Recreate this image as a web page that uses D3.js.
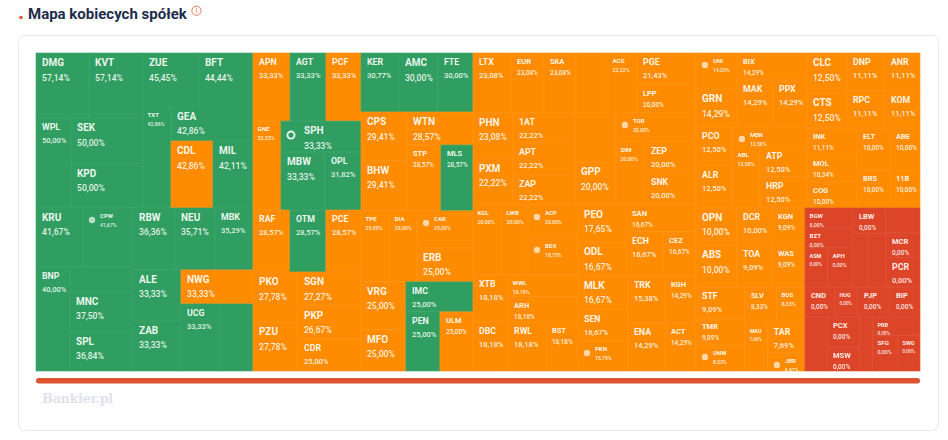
<!DOCTYPE html>
<html>
<head>
<meta charset="utf-8">
<script src="https://cdn.jsdelivr.net/npm/d3@7"></script>
<style>
	body { margin: 0; background: #fff; }
	text { font-family: Roboto, sans-serif; }
</style>
</head>
<body>
<div class="chart"></div>
<script>
// names starting with _ are cells that show no label in the picture
const tickers = [
	"DMG","KVT","WPL","SEK","KPD","ZUE","BFT","TXT","GEA","CDL","MIL",
	"KRU","CPW","BNP","_a","MNC","SPL","RBW","NEU","MBK","ALE","ZAB","NWG","UCG","_b",
	"APN","AGT","PCF","GNE","SPH","MBW","OPL","RAF","OTM","PCE","PKO","PZU","SGN","PKP","CDR",
	"KER","AMC","FTE","CPS","BHW","WTN","STP","MLS","TPE","DIA","CAR","ERB","VRG","MFO","IMC","PEN","ULM",
	"LTX","EUR","SKA","_c","ACG","PGE","LPP","PHN","PXM","1AT","APT","ZAP","_d","GPP","TOR","SIM","ZEP","SNK",
	"KGL","LWB","ACP","BDX","XTB","DBC","WWL","ARH","RWL","BST",
	"PEO","ODL","SAN","ECH","CEZ","MLK","SEN","PKN","TRK","KGH","ENA","ACT",
	"UNI","GRN","BIX","MAK","PPX","PCO","ALR","MBR","ABL","ATP","HRP",
	"CLC","CTS","DNP","RPC","ANR","KOM","INK","MOL","COG","ELT","BRS","ABE","11B",
	"OPN","ABS","DCR","KGN","TOA","WAS","STF","TMR","UNW","SLV","BOS","WAU","TAR","JBR",
	"BGW","BZT","ASM","APH","LBW","_e","_f","_g","MCR","PCR","CND","HUG","PJP","BIP","_h","PCX","MSW","_i","PRB","SFG","SWG"
];
const percents = [
	57.14,57.14,50,50,50,45.45,44.44,42.86,42.86,42.86,42.11,
	41.67,41.67,40,38,37.5,36.84,36.36,35.71,35.29,33.33,33.33,33.33,33.33,33.33,
	33.33,33.33,33.33,33.33,33.33,33.33,31.82,28.57,28.57,28.57,27.78,27.78,27.27,26.67,25,
	30.77,30,30,29.41,29.41,28.57,28.57,28.57,25,25,25,25,25,25,25,25,25,
	23.08,23.08,23.08,23.08,22.22,21.43,20,23.08,22.22,22.22,22.22,22.22,20,20,20,20,20,20,
	20,20,20,18.75,18.18,18.18,18.18,18.18,18.18,18.18,
	17.65,16.67,16.67,16.67,16.67,16.67,16.67,15.79,15.38,14.29,14.29,14.29,
	14.29,14.29,14.29,14.29,14.29,12.5,12.5,12.5,12.5,12.5,12.5,
	12.5,12.5,11.11,11.11,11.11,11.11,11.11,10.34,10,10,10,10,10,
	10,10,10,9.09,9.09,9.09,9.09,9.09,8.33,8.33,8.33,7.69,7.69,6.67,
	0,0,0,0,0,0,0,0,0,0,0,0,0,0,0,0,0,0,0,0,0
];
// cell weight, estimated from the area of each cell
const weights = [
	345,351,315,331,317,302,292,283,279,281,268,
	277,295,354,158,252,246,260,248,236,245,240,245,255,228,
	252,245,238,249,248,255,209,229,223,217,225,220,214,208,202,
	224,230,207,225,230,218,224,211,206,192,207,190,216,185,201,201,195,
	228,198,192,192,174,189,165,184,184,186,198,186,201,176,232,183,158,163,
	203,182,165,185,165,172,154,175,186,157,
	178,163,189,163,145,170,155,150,174,146,178,149,
	148,156,189,169,160,144,155,148,165,141,146,
	160,140,144,141,133,130,135,135,130,139,125,126,114,
	152,172,130,122,147,139,152,132,127,115,101,110,111,67,
	96,96,90,98,83,81,97,85,85,99,90,69,96,90,119,99,79,70,85,90,79
];
const greenTickers = [
	"DMG","KVT","WPL","SEK","KPD","ZUE","BFT","TXT","GEA","MIL","KRU","CPW","BNP","_a","MNC","SPL",
	"RBW","NEU","MBK","ALE","ZAB","UCG","_b","AGT","SPH","MBW","OPL","OTM","KER","AMC","FTE","MLS",
	"IMC","PEN"
];
const iconTickers = ["CPW","SPH","CAR","TOR","ACP","BDX","PKN","UNI","MBR","UNW","JBR"];

const h = (...children) => ({ dir: "h", children });
const v = (...children) => ({ dir: "v", children });

// how the cells nest: h splits a group side by side, v stacks it
const cellTree = h(
	v(
		h(
			v(h("DMG","KVT"), h("WPL", v("SEK","KPD"))),
			v(h("ZUE","BFT"), h("TXT", v("GEA", h("CDL","MIL"))))
		),
		h(
			v(h("KRU","CPW"), h("BNP", v("_a","MNC","SPL"))),
			v(h("RBW","NEU","MBK"), h(v("ALE","ZAB"), v("NWG", h("UCG","_b"))))
		)
	),
	v(
		h("APN","AGT","PCF"),
		h("GNE", v("SPH", h("MBW","OPL"))),
		h("RAF","OTM","PCE"),
		h(v("PKO","PZU"), v("SGN","PKP","CDR"))
	),
	v(
		h("KER","AMC","FTE"),
		h(v("CPS","BHW"), v("WTN", h("STP","MLS"))),
		h("TPE","DIA", v("CAR","ERB")),
		h(v("VRG","MFO"), v("IMC", h("PEN","ULM")))
	),
	v(
		h("LTX","EUR","SKA","_c","ACG", v("PGE","LPP")),
		h(v("PHN","PXM"), v("1AT","APT","ZAP"), v("_d","GPP"), v("TOR", h("SIM", v("ZEP","SNK")))),
		h(
			v(h("KGL","LWB", v("ACP","BDX")), h(v("XTB","DBC"), v("WWL","ARH", h("RWL","BST")))),
			v(h(v("PEO","ODL"), v("SAN", h("ECH","CEZ"))), h(v("MLK","SEN","PKN"), v(h("TRK","KGH"), h("ENA","ACT"))))
		)
	),
	v(
		h(
			v(h(v("UNI","GRN"), v("BIX", h("MAK","PPX"))), h(v("PCO","ALR"), v("MBR", h("ABL", v("ATP","HRP"))))),
			v(h(v("CLC","CTS"), v("DNP","RPC"), v("ANR","KOM")), h(v("INK","MOL","COG"), v("ELT","BRS"), v("ABE","11B")))
		),
		h(
			v(h(v("OPN","ABS"), v(h("DCR","KGN"), h("TOA","WAS"))), h(v("STF","TMR","UNW"), v(h("SLV","BOS"), h("WAU", v("TAR","JBR"))))),
			v(
				h(v("BGW","BZT", h("ASM","APH")), v("LBW", h("_e","_f")), v("_g","MCR","PCR")),
				h("CND","HUG","PJP","BIP"),
				h("_h", v("PCX","MSW"), "_i", v("PRB", h("SFG","SWG")))
			)
		)
	)
);

const width = 948, height = 440;
const box = { x: 36, y: 53, w: 884, h: 318 };
const colors = { green: "#2f9e60", orange: "#ff8b00", red: "#dc4527" };

const weightOf = new Map(tickers.map((t, i) => [t, weights[i]]));
const percentOf = new Map(tickers.map((t, i) => [t, percents[i]]));
const fmt = d3.formatLocale({ decimal: ",", thousands: " ", grouping: [3], currency: ["", "%"] }).format(".2f");

const svg = d3.select("div.chart").append("svg")
	.attr("width", width)
	.attr("height", height)
	.style("display", "block");

drawFrame();
drawCells();

function drawFrame() {
	svg.append("rect")
		.attr("x", 18.5).attr("y", 35.5)
		.attr("width", 920).attr("height", 395)
		.attr("rx", 6)
		.attr("fill", "#fff")
		.attr("stroke", "#e6e8ec");

	svg.append("circle").attr("cx", 21).attr("cy", 17.5).attr("r", 1.8).attr("fill", "#e4572e");
	svg.append("text")
		.attr("x", 28).attr("y", 19)
		.attr("font-size", 15).attr("font-weight", 700)
		.attr("fill", "#1e2c4c")
		.text("Mapa kobiecych spółek");
	svg.append("circle")
		.attr("cx", 196.5).attr("cy", 10.7).attr("r", 4.6)
		.attr("fill", "none").attr("stroke", "#e8795a");
	svg.append("text")
		.attr("x", 196.5).attr("y", 13.3)
		.attr("text-anchor", "middle")
		.attr("font-size", 7).attr("fill", "#e8795a")
		.text("i");

	svg.append("rect")
		.attr("x", box.x).attr("y", 378)
		.attr("width", box.w).attr("height", 5.5)
		.attr("rx", 2.7)
		.attr("fill", "#dc5430");
	svg.append("text")
		.attr("x", 42).attr("y", 403)
		.attr("font-size", 13).attr("font-weight", 700)
		.attr("letter-spacing", -0.45)
		.attr("fill", "#dfe2ea")
		.style("font-family", "'DejaVu Serif', serif")
		.text("Bankier.pl");
}

function cellColor(name) {
	if (percentOf.get(name) === 0) return colors.red;
	return greenTickers.includes(name) ? colors.green : colors.orange;
}

function drawCells() {
	const tile = (node, x0, y0, x1, y1) =>
		(node.data.dir === "h" ? d3.treemapDice : d3.treemapSlice)(node, x0, y0, x1, y1);

	const root = d3.hierarchy(cellTree, d => d.children).sum(d => weightOf.get(d) || 0);
	d3.treemap().tile(tile).size([box.w, box.h])(root);

	// the label shrinks with the room the cell leaves for it
	const fontScale = d3.scaleThreshold()
		.domain([25, 29.5, 34, 38.5])
		.range([5.5, 6.2, 7.5, 8.8, 10]);

	const cell = svg.append("g")
		.attr("transform", `translate(${box.x},${box.y})`)
		.style("filter", "blur(0.35px)")
		.selectAll("g")
		.data(root.leaves())
		.join("g")
		.attr("transform", d => `translate(${d.x0},${d.y0})`);

	cell.append("rect")
		.attr("width", d => d.x1 - d.x0)
		.attr("height", d => d.y1 - d.y0)
		.attr("fill", d => cellColor(d.data))
		.attr("stroke", d => cellColor(d.data))
		.attr("stroke-width", 0.6);

	// faint light edge on top of the fills, the cell colours stay flat underneath
	cell.append("rect")
		.attr("width", d => d.x1 - d.x0)
		.attr("height", d => d.y1 - d.y0)
		.attr("fill", "none")
		.attr("stroke", "#fff")
		.attr("stroke-opacity", 0.06);

	const labelled = cell.filter(d => !d.data.startsWith("_"));

	labelled.each(function(d) {
		const sel = d3.select(this);
		const w = d.x1 - d.x0, ht = d.y1 - d.y0;
		const hasIcon = iconTickers.includes(d.data);
		let fs = fontScale(Math.min(w, ht + 6));
		let dx = fs < 7 ? 4.5 : 6;

		if (hasIcon) {
			const room = Math.min(w - 26, ht + 6);
			fs = room < 36 ? 6 : 10;
			dx = fs < 10 ? 17 : 23;
			const big = fs === 10;
			sel.append("circle")
				.attr("cx", big ? 10 : 9)
				.attr("cy", big ? 14 : 12)
				.attr("r", big ? 4.5 : 3.2)
				.attr("fill", "#fff")
				.attr("fill-opacity", big ? 0.9 : 0.65);
			if (big) {
				sel.append("circle")
					.attr("cx", 10).attr("cy", 14).attr("r", 2.6)
					.attr("fill", cellColor(d.data));
			}
		}

		sel.append("text")
			.attr("x", dx)
			.attr("y", 5.5 + fs * 0.78)
			.attr("font-size", fs)
			.attr("font-weight", 700)
			.attr("fill", "#fff")
			.attr("fill-opacity", 0.92)
			.text(d.data);

		sel.append("text")
			.attr("x", dx)
			.attr("y", 5.5 + fs * 0.78 + fs * 1.42)
			.attr("font-size", fs * 0.86)
			.attr("font-weight", 500)
			.attr("fill", "#fff")
			.attr("fill-opacity", 0.88)
			.text(fmt(percentOf.get(d.data)) + "%");
	});
}
</script>
</body>
</html>
